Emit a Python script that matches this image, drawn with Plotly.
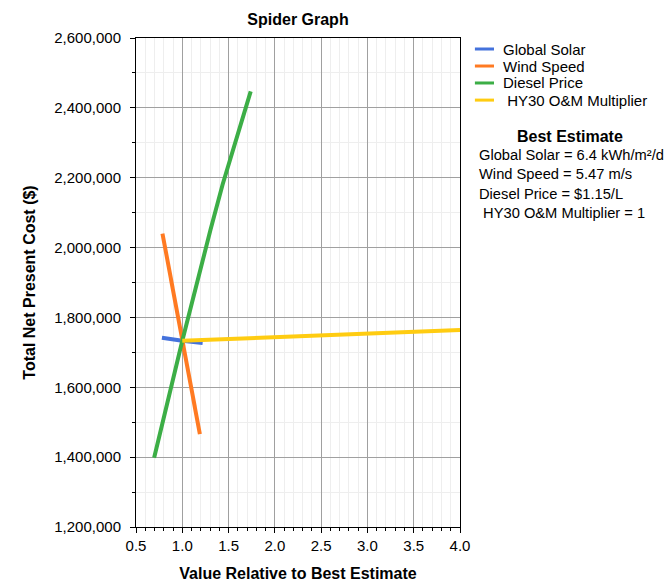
import plotly.graph_objects as go

SERIES_NAMES = ["Global Solar", "Wind Speed", "Diesel Price", " HY30 O&M Multiplier"]
SERIES_COLORS = ["#4472dc", "#ff7a22", "#3cae46", "#ffcc11"]

solar_x = [0.78, 1.0, 1.22]
solar_y = [1742000, 1733000, 1727000]

wind_x = [0.786, 1.0, 1.19]
wind_y = [2040000, 1733000, 1466000]

diesel_x = [0.696, 0.87, 1.0, 1.304, 1.435, 1.739]
diesel_y = [1398000, 1590000, 1733000, 2050000, 2180000, 2447000]

om_x = [1.0, 2.0, 3.0, 4.0]
om_y = [1733000, 1744000, 1754000, 1764000]

best_estimate = [
    "Global Solar = 6.4 kWh/m²/d",
    "Wind Speed = 5.47 m/s",
    "Diesel Price = $1.15/L",
    " HY30 O&M Multiplier = 1",
]

FONT = "Liberation Sans, Arial, sans-serif"

fig = go.Figure()
for name, color, xs, ys in zip(
    SERIES_NAMES, SERIES_COLORS,
    [solar_x, wind_x, diesel_x, om_x],
    [solar_y, wind_y, diesel_y, om_y],
):
    fig.add_trace(go.Scatter(
        x=xs, y=ys, name=name, mode="lines",
        line=dict(color=color, width=4), showlegend=False,
    ))

axis_common = dict(
    showline=True, linecolor="black", linewidth=1, mirror=True,
    ticks="outside", ticklen=5, tickcolor="black",
    gridcolor="#a0a0a0", gridwidth=1, zeroline=False,
    tickfont=dict(size=15, color="black", family=FONT),
)

fig.update_layout(
    width=666, height=583,
    paper_bgcolor="white", plot_bgcolor="white",
    margin=dict(l=136, r=206, t=38, b=56, autoexpand=False),
    font=dict(family=FONT, color="black"),
    title=dict(text="<b>Spider Graph</b>", x=0.5, xref="paper", xanchor="center",
               y=0.966, yref="container", yanchor="middle", font=dict(size=16)),
    xaxis=dict(
        range=[0.5, 4.0], dtick=0.5, tickformat=".1f",
        title=dict(text="<b>Value Relative to Best Estimate</b>",
                   font=dict(size=16), standoff=14),
        minor=dict(dtick=0.1, showgrid=True, gridcolor="#eeeeee",
                   ticks="outside", ticklen=3, tickcolor="black"),
        **axis_common,
    ),
    yaxis=dict(
        range=[1200000, 2600000], dtick=200000, tickformat=",d",
        ticklabelstandoff=6,
        title=dict(text="<b>Total Net Present Cost ($)</b>",
                   font=dict(size=16), standoff=14),
        minor=dict(dtick=100000, showgrid=True, gridcolor="#eeeeee",
                   ticks="outside", ticklen=3, tickcolor="black"),
        **axis_common,
    ),
    showlegend=False,
)

# legend drawn beside the plot, as in the original
legend_y = [0.9775, 0.9427, 0.908, 0.873]
for name, color, ly in zip(SERIES_NAMES, SERIES_COLORS, legend_y):
    fig.add_shape(type="line", xref="paper", yref="paper",
                  x0=1.046, x1=1.105, y0=ly, y1=ly,
                  line=dict(color=color, width=3))
    fig.add_annotation(text=name, xref="paper", yref="paper",
                       x=1.127, y=ly, xanchor="left", yanchor="middle",
                       showarrow=False, font=dict(size=15))

fig.add_annotation(
    text="<b>Best Estimate</b>", xref="paper", yref="paper",
    x=1.340, y=0.799, xanchor="center", yanchor="middle",
    showarrow=False, font=dict(size=16),
)
for i, line in enumerate(best_estimate):
    fig.add_annotation(
        text=line, xref="paper", yref="paper",
        x=1.052, y=0.761 - i * 0.0395, xanchor="left", yanchor="middle",
        showarrow=False, font=dict(size=14.7),
    )

fig.write_html("out.html", config={"displayModeBar": False},
               post_script="document.body.style.margin='0';")
